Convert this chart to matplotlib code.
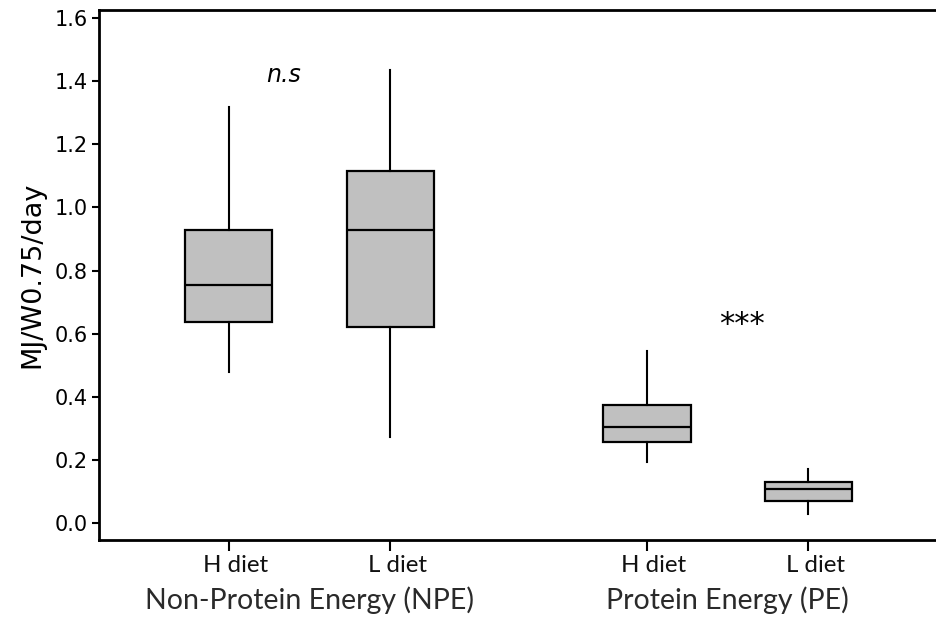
import matplotlib
matplotlib.use("Agg")
import matplotlib.pyplot as plt
import matplotlib.transforms as mtransforms

# Data
groups = ["Non-Protein Energy (NPE)", "Protein Energy (PE)"]
tick_labels = ["H diet", "L diet", "H diet", "L diet"]
positions = [1.0, 2.0, 3.59, 4.59]
whisker_low = [0.479, 0.273, 0.194, 0.028]
q1 = [0.636, 0.620, 0.258, 0.070]
median = [0.754, 0.927, 0.304, 0.108]
q3 = [0.927, 1.115, 0.375, 0.131]
whisker_high = [1.317, 1.434, 0.545, 0.171]
annotations = ["n.s", "***"]
annot_x = [1.34, 4.18]
annot_y = [1.42, 0.63]

stats = []
for i in range(len(positions)):
    stats.append(dict(med=median[i], q1=q1[i], q3=q3[i],
                      whislo=whisker_low[i], whishi=whisker_high[i],
                      fliers=[], label=tick_labels[i]))

fig = plt.figure(figsize=(9.36, 6.17), dpi=100)
ax = fig.add_axes([99/936, 1-539.5/617, 1-99/936, (539.5-9.5)/617])

ax.bxp(stats, positions=positions, widths=0.54, patch_artist=True,
       showcaps=False,
       boxprops=dict(facecolor="#c0c0c0", edgecolor="black", linewidth=1.6),
       medianprops=dict(color="black", linewidth=1.6),
       whiskerprops=dict(color="black", linewidth=1.5))

yt = [0.0, 0.2, 0.4, 0.6, 0.8, 1.0, 1.2, 1.4, 1.6]
ax.set_ylim(-0.052, 1.627)
ax.set_xlim(0.197, 5.38)
ax.set_yticks(yt)
ax.set_yticklabels([f"{v:.1f}" for v in yt], fontsize=15, family="DejaVu Sans")
ax.set_xticks(positions)
ax.set_xticklabels([""] * len(positions))

# x tick labels drawn as text slightly right of the ticks, as in the reference
xform = mtransforms.blended_transform_factory(ax.transData, ax.transAxes)
xoff = mtransforms.ScaledTranslation(7/100, -15/100, fig.dpi_scale_trans)
for p, lab in zip(positions, tick_labels):
    ax.text(p, 0, lab, transform=xform + xoff, ha="center", va="top",
            fontsize=17.3, family="Lato", color="#111111", clip_on=False)

ax.tick_params(axis="y", direction="out", length=5, width=1.5, pad=3)
ax.tick_params(axis="x", direction="out", length=8, width=1.5, pad=3)

ax.spines["right"].set_visible(False)
for s in ["left", "bottom", "top"]:
    ax.spines[s].set_linewidth(2)

ax.set_ylabel("MJ/W0.75/day", fontsize=19.5, family="DejaVu Sans", labelpad=7)

# group labels
for gi, g in enumerate(groups):
    xc = (positions[2*gi] + positions[2*gi+1]) / 2
    ax.text(xc, -0.245, g, transform=ax.transData,
            ha="center", va="center", fontsize=20.5, family="Lato", color="#2a2a2a",
            clip_on=False)

ax.text(annot_x[0], annot_y[0], annotations[0], style="italic", fontsize=17,
        ha="center", va="center", family="DejaVu Sans")
ax.text(annot_x[1], annot_y[1], annotations[1], fontsize=22,
        ha="center", va="center", family="DejaVu Sans")

fig.savefig("out.png", dpi=100)
